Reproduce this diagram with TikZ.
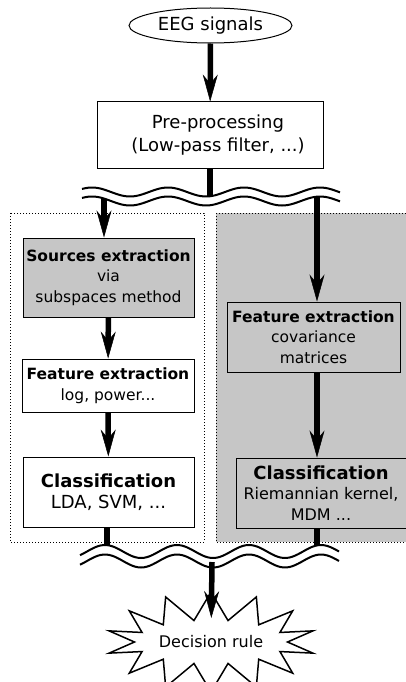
\documentclass[tikz,border=0pt]{standalone}
\usepackage{fontspec}
\setmainfont{DejaVu Sans}
\usetikzlibrary{arrows.meta,shapes.geometric,shapes.symbols}

\definecolor{panelgray}{RGB}{198,198,198}
\newcommand{\bigtxt}{\fontsize{18}{23}\selectfont}
\newcommand{\smalltxt}{\fontsize{15.5}{20.5}\selectfont}
\newcommand{\midtxt}{\fontsize{16}{20.5}\selectfont}

\tikzset{
  stage/.style={draw, line width=1pt, align=center, inner sep=0pt, fill=white, font=\smalltxt},
  panel/.style={dotted, line width=1pt},
  flow/.style={line width=5.5pt, -{Stealth[length=27pt,width=15pt,inset=9pt,line width=0.5pt]}},
  link/.style={line width=5.5pt},
  wave/.style={line width=2pt}
}

\begin{document}
\begin{tikzpicture}[x=1pt,y=-1pt]
  \useasboundingbox (0,0) rectangle (406,682);
  \clip (0,0) rectangle (406,682);

  % the two methods
  \draw[panel, fill=white] (10,213) rectangle (204,542);
  \draw[panel, fill=panelgray] (216,213) rectangle (420,542);

  \node[ellipse, draw, line width=1pt, minimum width=163pt, minimum height=35pt,
        inner sep=0pt, font=\bigtxt] (eeg) at (210.5,25.5) {EEG signals};
  \node[stage, minimum width=226pt, minimum height=66pt, font=\bigtxt] (preproc) at (210,135)
    {\hspace*{16pt}Pre-processing\\\hspace*{16pt}(Low-pass filter, ...)};

  % left column
  \node[stage, fill=panelgray, minimum width=171pt, minimum height=79pt] (srcext) at (108.5,277.5)
    {\textbf{Sources extraction}\\via\\subspaces method};
  \node[stage, minimum width=172pt, minimum height=53pt] (featL) at (108,385.5)
    {\textbf{Feature extraction}\\log, power...};
  \node[stage, minimum width=171pt, minimum height=70pt, font=\fontsize{18}{21}\selectfont] (classL) at (108.5,492)
    {\textbf{Classification}\\LDA, SVM, ...};

  % right column
  \node[stage, fill=panelgray, minimum width=173pt, minimum height=70pt] (featR) at (313.5,337)
    {\textbf{Feature extraction}\\covariance\\matrices};
  \node[stage, fill=panelgray, minimum width=170pt, minimum height=70pt] (classR) at (321,493)
    {{\fontsize{18}{20.5}\selectfont\textbf{Classification}}\\{\midtxt Riemannian kernel,}\\{\midtxt MDM ...}};

  \coordinate (wtop) at (210,196);
  \coordinate (wL) at (104,196);
  \coordinate (wR) at (317,194);
  \coordinate (wbL) at (107,550);
  \coordinate (wbR) at (317,550);
  \coordinate (wbot) at (212,562);

  \draw[flow] (eeg) -- (preproc);
  \draw[link] (preproc) -- (wtop);
  \draw[flow] (wL) -- (wL |- srcext.north);
  \draw[flow] (srcext) -- (featL);
  \draw[flow] (featL) -- (classL);
  \draw[link] (classL.south -| wbL) -- (wbL);
  \draw[flow] (wR) -- (wR |- featR.north);
  \draw[flow] (featR.south -| wR) -- (classR.north -| wR);
  \draw[link] (classR.south -| wbR) -- (wbR);

  % breaks
  \fill[white] plot[domain=82:340,samples=90] (\x,{192-4.5*cos((\x-92)/76*360)})
    -- plot[domain=340:82,samples=90] (\x,{201-4.5*cos((\x-92)/76*360)}) -- cycle;
  \draw[wave] plot[domain=82:340,samples=90] (\x,{192-4.5*cos((\x-92)/76*360)});
  \draw[wave] plot[domain=82:340,samples=90] (\x,{201-4.5*cos((\x-92)/76*360)});

  \fill[white] plot[domain=80:339,samples=90] (\x,{551.5-6.5*cos((\x-105)/72*360)})
    -- plot[domain=339:80,samples=90] (\x,{561-6.5*cos((\x-105)/72*360)}) -- cycle;
  \draw[wave] plot[domain=80:339,samples=90] (\x,{551.5-6.5*cos((\x-105)/72*360)});
  \draw[wave] plot[domain=80:339,samples=90] (\x,{561-6.5*cos((\x-105)/72*360)});

  \node[starburst, draw, line width=1.5pt, fill=white, starburst points=14,
        starburst point height=28pt, random starburst=0, shape border rotate=12.86,
        minimum width=200pt, minimum height=100pt, inner sep=2pt,
        font=\fontsize{16}{18}\selectfont] (decision) at (211,642) {Decision rule};
  \draw[flow, shorten >=24pt] (wbot) -- (decision.center);
\end{tikzpicture}
\end{document}
